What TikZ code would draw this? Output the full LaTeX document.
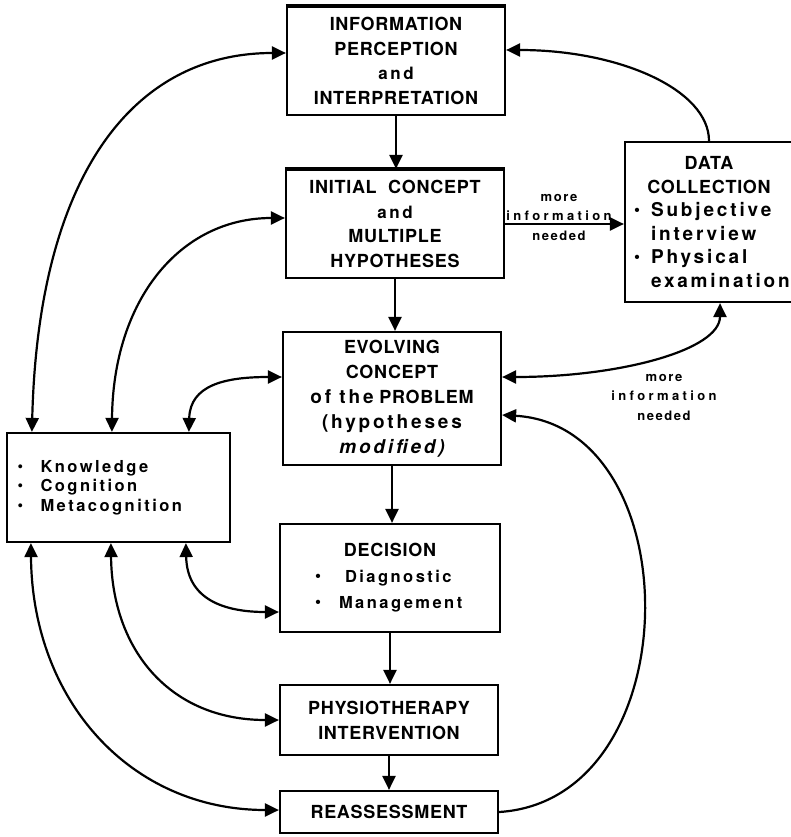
\documentclass[tikz,border=0pt]{standalone}
\usepackage{fontspec}
\usetikzlibrary{arrows.meta}
\setmainfont{TeX Gyre Heros}
\newfontfamily\capf{TeX Gyre Heros}[LetterSpace=4]
\newfontfamily\lowf{TeX Gyre Heros}[LetterSpace=15]
\newfontfamily\infof{TeX Gyre Heros}[LetterSpace=26]
\newfontfamily\labf{TeX Gyre Heros}[LetterSpace=12]
% lowercase run with wider tracking
\newcommand{\lw}[2][16.5]{{\lowf\fontsize{#1}{24}\selectfont #2}}
\newcommand{\bul}{\raisebox{0.1ex}{\scalebox{0.95}{\textbullet}}}
\begin{document}
\begin{tikzpicture}[x=1pt,y=-1pt,
  box/.style={draw, line width=2.2pt, inner sep=0pt, align=center,
    font=\capf\bfseries\fontsize{18}{24.5}\selectfont},
  tip/.tip={Triangle[length=14pt,width=13pt]},
  arr/.style={line width=2.2pt, -tip},
  darr/.style={line width=2.2pt, tip-tip},
  lab/.style={align=center, inner sep=0pt,
    font=\labf\bfseries\fontsize{13}{19.5}\selectfont}]
\useasboundingbox (0,0) rectangle (791,837);

% main column
\node[box, minimum width=218pt, minimum height=108pt] (info) at (396,61)
  {INFORMATION\\PERCEPTION\\\lw[17]{and}\\INTERPRETATION};
\node[box, minimum width=218pt, minimum height=108pt] (init) at (395,224)
  {INITIAL\ \ CONCEPT\\\lw[17]{and}\\MULTIPLE\\HYPOTHESES};
\node[box, minimum width=218pt, minimum height=133pt,
  font=\capf\bfseries\fontsize{18}{25}\selectfont] (evol) at (392,398.5)
  {EVOLVING\\CONCEPT\\\lw[19]{of the} PROBLEM\\\lw[19]{(hypotheses}\\\lw[19]{\itshape modified)}};
\node[box, minimum width=220pt, minimum height=108pt,
  font=\capf\bfseries\fontsize{18}{26}\selectfont] (dec) at (390,578)
  {DECISION\\\makebox[150pt][l]{\makebox[30pt][l]{\bul}\lw{Diagnostic}}\\
   \makebox[150pt][l]{\makebox[24pt][l]{\bul}\lw{Management}}};
\node[box, minimum width=218pt, minimum height=70pt,
  font=\capf\bfseries\fontsize{18}{25}\selectfont] (phys) at (389,720)
  {PHYSIOTHERAPY\\INTERVENTION};
\node[box, minimum width=218pt, minimum height=42pt] (reas) at (389,812)
  {REASSESSMENT};

% side boxes
\node[box, minimum width=223pt, minimum height=109pt, text width=202pt, align=left,
  font=\capf\bfseries\fontsize{16.5}{19.5}\selectfont] (know) at (118.5,487.5)
  {\makebox[23pt][l]{\bul}\lw{Knowledge}\\\makebox[23pt][l]{\bul}\lw{Cognition}\\\makebox[23pt][l]{\bul}\lw{Metacognition}};
\node[box, minimum width=168pt, minimum height=160pt, text width=150pt, align=left,
  font=\capf\bfseries\fontsize{18}{23.6}\selectfont] (data) at (709,222)
  {\makebox[150pt]{DATA}\\\makebox[150pt]{COLLECTION}\\
   \makebox[17pt][l]{\bul}\lw[19]{Subjective}\\\makebox[17pt][l]{}\lw[19]{interview}\\
   \makebox[17pt][l]{\bul}\lw[19]{Physical}\\\makebox[17pt][l]{}\lw[19]{examination}};

% heavier top rules
\draw[line width=3.2pt] (info.north west) -- (info.north east);
\draw[line width=2.8pt] (init.north west) -- (init.north east);

% labels
\node[lab] (lab1) at (559,217) {more\\{\infof information}\\needed};
\node[lab] (lab2) at (664,397) {more\\{\infof information}\\needed};

% flow down the main column
\draw[arr] (info.south) -- (info.south |- init.north);
\draw[arr] (init.south) -- (init.south |- evol.north);
\draw[arr] (evol.south) -- (evol.south |- dec.north);
\draw[arr] (dec.south) -- (dec.south |- phys.north);
\draw[arr] (phys.south) -- (phys.south |- reas.north);

% data collection loop
\draw[arr] (init.east) -- (init.east -| data.west);
\draw[arr] (data.north) .. controls (709,90) and (620,50) .. ([yshift=11pt]info.east);
\draw[darr] ([xshift=11pt]data.south) .. controls (720,350) and (620,377) .. ([yshift=21.5pt]evol.east);
\draw[arr] (reas.east) .. controls (691,800) and (691,426) .. ([yshift=-16.5pt]evol.east);

% knowledge links, upper side
\draw[darr] ([xshift=26pt]know.north west) .. controls (38,180) and (130,53) .. ([yshift=8pt]info.west);
\draw[darr] ([xshift=106pt]know.north west) .. controls (113,300) and (180,218) .. ([yshift=6pt]init.west);
\draw[darr] ([xshift=183pt]know.north west) .. controls (190,385) and (225,377) .. ([yshift=21.5pt]evol.west);

% knowledge links, lower side
\draw[darr] ([xshift=180pt]know.south west) .. controls (187,600) and (225,612) .. ([yshift=-34pt]dec.west);
\draw[darr] ([xshift=105pt]know.south west) .. controls (112,650) and (170,720) .. (phys.west);
\draw[darr] ([xshift=25pt]know.south west) .. controls (32,700) and (130,810) .. ([yshift=2pt]reas.west);
\end{tikzpicture}
\end{document}
